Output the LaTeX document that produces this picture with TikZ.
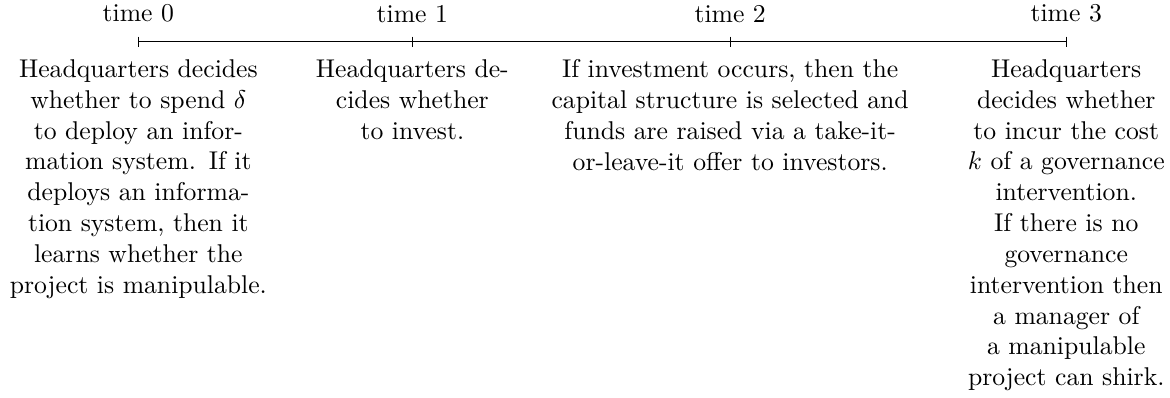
\documentclass[tikz,border=0pt]{standalone}
\begin{document}
\begin{tikzpicture}[event/.style={anchor=north, align=center, inner sep=0pt}]
\useasboundingbox (-1.894,0.571) rectangle (14.12,-4.866);
\coordinate (t0) at (0,0);
\coordinate (t1) at (3.75,0);
\coordinate (t2) at (8.10,0);
\coordinate (t3) at (12.70,0);
\draw (t0) -- (t3);
\foreach \i in {0,...,3} {
  \draw ([yshift=2pt]t\i) -- ([yshift=-2pt]t\i);
  \node[anchor=south, inner sep=0pt] (time\i) at ([yshift=7.3pt]t\i) {time \i};
}
\node[event, text width=3.8cm] (ev0) at ([yshift=-6.8pt]t0) {Headquarters decides whether to spend $\delta$ to deploy an information system. If it deploys an information system, then it learns whether the project is manipulable.};
\node[event, text width=3.2cm] (ev1) at ([yshift=-6.8pt]t1) {Headquarters de-\\cides whether\\to invest.};
\node[event, text width=5.3cm] (ev2) at ([yshift=-6.8pt]t2) {If investment occurs, then the capital structure is selected and funds are raised via a take-it-or-leave-it offer to investors.};
\node[event, text width=3cm] (ev3) at ([yshift=-6.8pt]t3) {Headquarters decides whether to incur the cost $k$ of a governance intervention.\\ If there is no governance intervention then a manager of a manipulable project can shirk.};
\end{tikzpicture}
\end{document}
